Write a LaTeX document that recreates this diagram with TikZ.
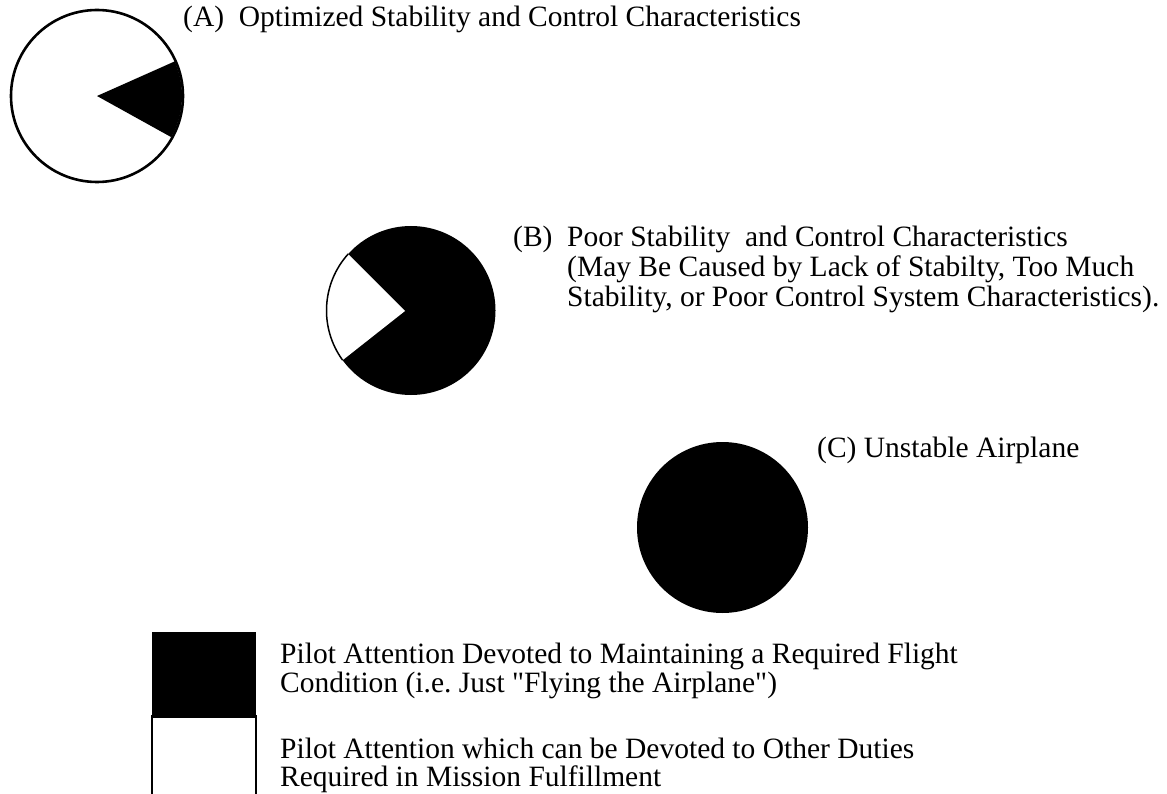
\documentclass[tikz,border=0pt]{standalone}
\usepackage{fontspec}
\setmainfont{Liberation Serif}[Ligatures=TeXOff]
\usetikzlibrary{positioning}

\begin{document}
\begin{tikzpicture}[
      x=1pt, y=1pt,
      pie/.style = {
          circle,
          inner sep=0pt,
          minimum size=#1,
        },
      txt/.style = {
          anchor=base west,
          inner sep=0pt,
          font=\fontsize{29.5}{30}\selectfont,
        },
      keybox/.style = {
          rectangle,
          inner sep=0pt,
          minimum width=104,
          minimum height=83,
        },
    ]

    \useasboundingbox (0,0) rectangle (1167,-794);
    \clip (0,0) rectangle (1167,-794);

    \coordinate (oA) at (97,-96);
    \fill (oA) -- ([shift={(-29:85)}]oA) arc[start angle=-29, end angle=24, radius=85] -- cycle;
    \node[pie=172, draw, line width=2.6] (cA) at (oA) {};
    \node[txt] (labA) at (183,-27) {(A)\ \ Optimized Stability and Control Characteristics};

    \node[pie=169, fill=black] (cB) at (411,-310.5) {};
    \coordinate (tipB) at (405,-311);
    \fill[white] (tipB) -- ([shift={(138:84.5)}]cB.center) arc[start angle=138, end angle=216, radius=84.5] -- cycle;
    \draw[line width=1.5] ([shift={(138:84.5)}]cB.center) arc[start angle=138, end angle=216, radius=84.5];
    \node[txt] (labB) at (513,-247) {(B)};
    \node[txt] (txtB1) at (567,-247) {Poor Stability\ \ and Control Characteristics};
    \node[txt] (txtB2) at ([yshift=-30]txtB1.base west) {(May Be Caused by Lack of Stabilty, Too Much};
    \node[txt] (txtB3) at ([yshift=-30]txtB2.base west) {Stability, or Poor Control System Characteristics).};

    \node[pie=171, fill=black] (cC) at (722.5,-527.5) {};
    \node[txt] (labC) at (817,-457) {(C) Unstable Airplane};

    \node[keybox, fill=black, anchor=north west] (keyblack) at (152,-632) {};
    \node[keybox, draw, line width=2.2, anchor=north] (keywhite) at (keyblack.south) {};
    \node[txt] (keyA1) at (280,-663) {Pilot Attention Devoted to Maintaining a Required Flight};
    \node[txt] (keyA2) at ([yshift=-29]keyA1.base west) {Condition (i.e.\ Just "Flying the Airplane")};
    \node[txt] (keyB1) at (280,-758) {Pilot Attention which can be Devoted to Other Duties};
    \node[txt] (keyB2) at ([yshift=-28]keyB1.base west) {Required in Mission Fulfillment};

  \end{tikzpicture}
\end{document}
